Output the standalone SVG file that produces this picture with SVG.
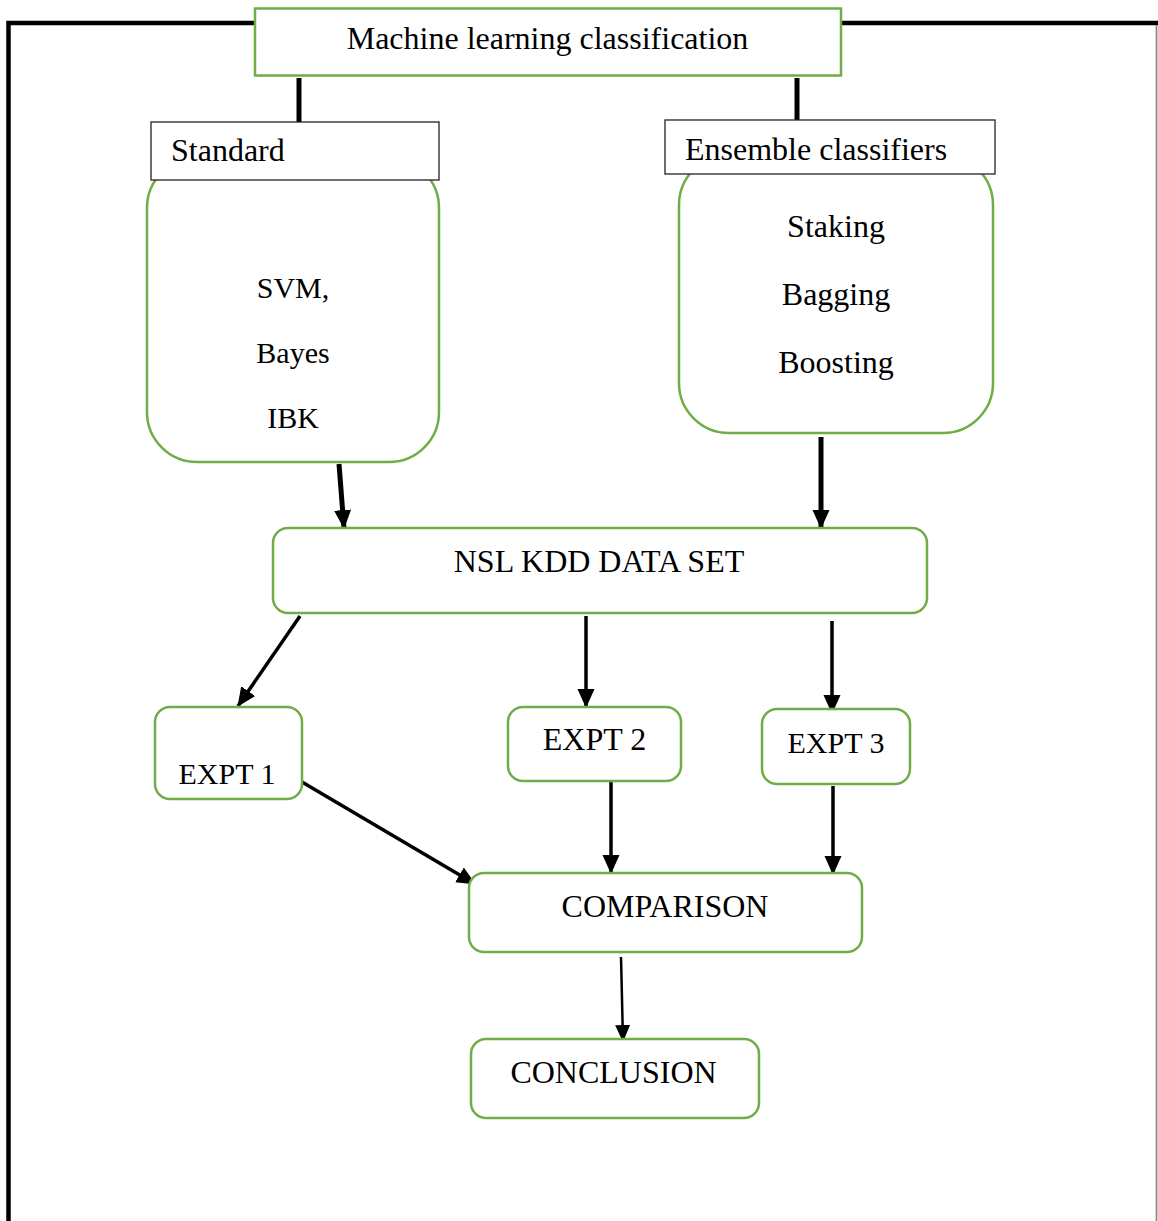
<svg xmlns="http://www.w3.org/2000/svg" width="1158" height="1221" viewBox="0 0 1158 1221">
  <style>
    text { font-family: "Liberation Serif", "Times New Roman", serif; font-size: 32px; fill: #000; }
    .c { text-anchor: middle; }
    .s { font-size: 30px; }
    .green { fill: #fff; stroke: #70AD47; stroke-width: 2.5; }
    .plain { fill: #fff; stroke: #222; stroke-width: 1.3; }
    .thick { stroke: #000; stroke-width: 5; fill: none; }
    .mid { stroke: #000; stroke-width: 3.5; fill: none; }
    .thin { stroke: #000; stroke-width: 2.5; fill: none; }
  </style>
  <defs>
    <marker id="ah" markerUnits="userSpaceOnUse" markerWidth="20" markerHeight="20" viewBox="0 0 20 20" refX="18" refY="10" orient="auto">
      <path d="M0,1.5 L19,10 L0,18.5 Z" fill="#000"/>
    </marker>
    <marker id="ahs" markerUnits="userSpaceOnUse" markerWidth="18" markerHeight="18" viewBox="0 0 18 18" refX="16" refY="9" orient="auto">
      <path d="M0,1.5 L17,9 L0,16.5 Z" fill="#000"/>
    </marker>
  </defs>

  <!-- page frame -->
  <g id="frame">
    <path d="M8.5,1221 V23 H1158" fill="none" stroke="#000" stroke-width="4.5"/>
    <line x1="1156.5" y1="25" x2="1156.5" y2="1221" stroke="#888" stroke-width="1.8"/>
  </g>

  <!-- connectors -->
  <g id="connectors">
    <line class="thick" x1="299" y1="78" x2="299" y2="122"/>
    <line class="thick" x1="797" y1="78" x2="797" y2="120"/>
    <line class="thick" x1="339" y1="464" x2="344" y2="528" marker-end="url(#ah)"/>
    <line class="thick" x1="821" y1="437" x2="821" y2="528" marker-end="url(#ah)"/>
    <line class="mid" x1="300" y1="616" x2="238" y2="706" marker-end="url(#ah)"/>
    <line class="mid" x1="586" y1="616" x2="586" y2="707" marker-end="url(#ah)"/>
    <line class="mid" x1="832" y1="621" x2="832" y2="713" marker-end="url(#ah)"/>
    <line class="mid" x1="302" y1="782" x2="475" y2="884" marker-end="url(#ah)"/>
    <line class="mid" x1="611" y1="781" x2="611" y2="873" marker-end="url(#ah)"/>
    <line class="mid" x1="833" y1="786" x2="833" y2="874" marker-end="url(#ah)"/>
    <line class="thin" x1="621" y1="957" x2="623" y2="1041" marker-end="url(#ahs)"/>
  </g>

  <g id="ml">
    <rect class="green" x="255" y="8.5" width="586" height="67"/>
    <text class="c" x="547.5" y="49">Machine learning classification</text>
  </g>

  <g id="standard">
    <rect class="green" x="147" y="158" width="292" height="304" rx="50" ry="50"/>
    <rect class="plain" x="151" y="122" width="288" height="58"/>
    <text x="171" y="161">Standard</text>
    <text class="c s" x="293" y="298">SVM,</text>
    <text class="c s" x="293" y="363">Bayes</text>
    <text class="c s" x="293" y="428">IBK</text>
  </g>

  <g id="ensemble">
    <rect class="green" x="679" y="155" width="314" height="278" rx="50" ry="50"/>
    <rect class="plain" x="665" y="120" width="330" height="54"/>
    <text x="685" y="160">Ensemble classifiers</text>
    <text class="c" x="836" y="237">Staking</text>
    <text class="c" x="836" y="305">Bagging</text>
    <text class="c" x="836" y="373">Boosting</text>
  </g>

  <g id="nsl">
    <rect class="green" x="273" y="528" width="654" height="85" rx="15" ry="15"/>
    <text class="c" x="599" y="572">NSL KDD DATA SET</text>
  </g>

  <g id="expt1">
    <rect class="green" x="155" y="707" width="147" height="92" rx="15" ry="15"/>
    <text class="c s" x="227" y="784">EXPT 1</text>
  </g>

  <g id="expt2">
    <rect class="green" x="508" y="707" width="173" height="74" rx="15" ry="15"/>
    <text class="c" x="594.5" y="750">EXPT 2</text>
  </g>

  <g id="expt3">
    <rect class="green" x="762" y="709" width="148" height="75" rx="15" ry="15"/>
    <text class="c s" x="836" y="753">EXPT 3</text>
  </g>

  <g id="comparison">
    <rect class="green" x="469" y="873" width="393" height="79" rx="15" ry="15"/>
    <text class="c" x="665" y="917">COMPARISON</text>
  </g>

  <g id="conclusion">
    <rect class="green" x="471" y="1039" width="288" height="79" rx="15" ry="15"/>
    <text class="c" x="613.5" y="1083">CONCLUSION</text>
  </g>
</svg>
